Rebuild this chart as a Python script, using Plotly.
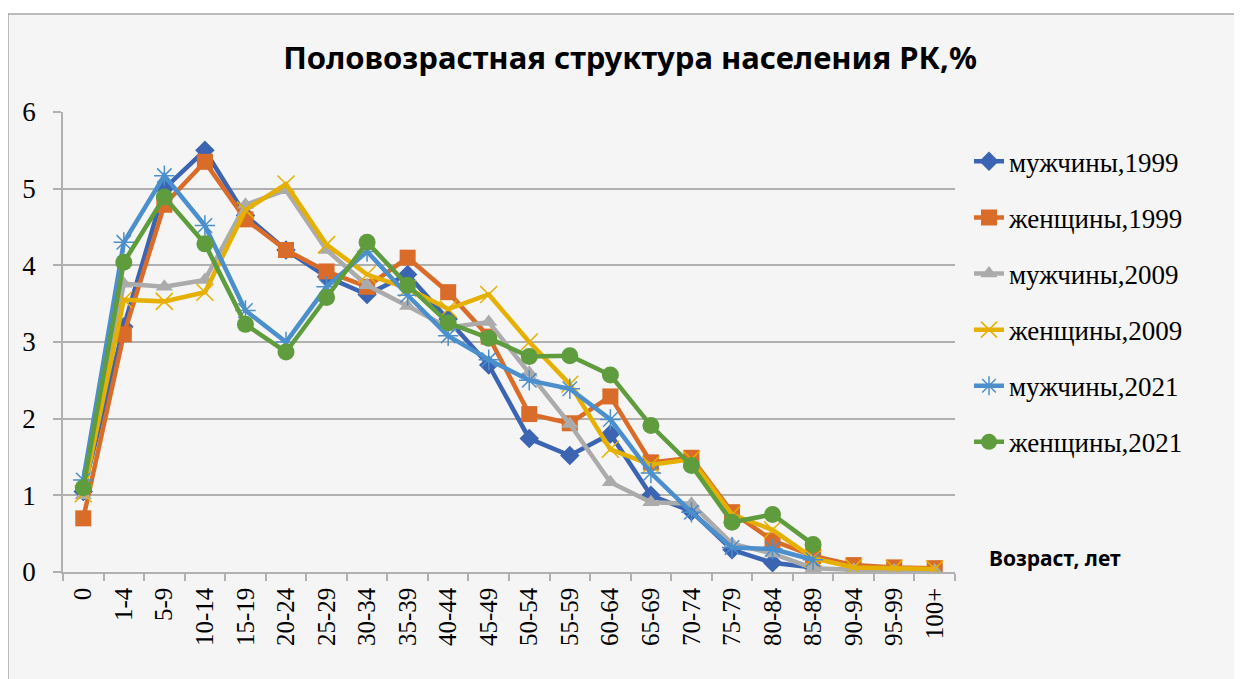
import plotly.graph_objects as go

ages = ["0", "1-4", "5-9", "10-14", "15-19", "20-24", "25-29", "30-34", "35-39", "40-44",
        "45-49", "50-54", "55-59", "60-64", "65-69", "70-74", "75-79", "80-84", "85-89",
        "90-94", "95-99", "100+"]

men_1999 = [1.05, 3.2, 5.0, 5.5, 4.65, 4.2, 3.85, 3.62, 3.88, 3.3, 2.7, 1.74, 1.52, 1.8,
            1.0, 0.79, 0.29, 0.12, 0.06, None, None, None]
women_1999 = [0.7, 3.1, 4.79, 5.35, 4.6, 4.2, 3.92, 3.72, 4.1, 3.65, 3.07, 2.06, 1.94, 2.29,
              1.43, 1.49, 0.78, 0.41, 0.21, 0.09, 0.06, 0.05]
men_2009 = [1.0, 3.76, 3.72, 3.81, 4.79, 4.98, 4.2, 3.74, 3.47, 3.19, 3.26, 2.6, 1.93, 1.17,
            0.91, 0.89, 0.37, 0.24, 0.05, 0.03, 0.02, 0.02]
women_2009 = [1.02, 3.55, 3.53, 3.65, 4.72, 5.06, 4.27, 3.88, 3.7, 3.43, 3.62, 3.0, 2.45, 1.6,
              1.4, 1.47, 0.75, 0.55, 0.18, 0.06, 0.05, 0.04]
men_2021 = [1.2, 4.3, 5.17, 4.52, 3.41, 3.0, 3.72, 4.18, 3.61, 3.08, 2.77, 2.5, 2.39, 1.99,
            1.29, 0.78, 0.32, 0.3, 0.16, None, None, None]
women_2021 = [1.1, 4.04, 4.89, 4.28, 3.23, 2.87, 3.58, 4.3, 3.74, 3.25, 3.05, 2.81, 2.82, 2.57,
              1.91, 1.39, 0.65, 0.75, 0.36, None, None, None]

names = ["мужчины,1999", "женщины,1999", "мужчины,2009", "женщины,2009",
         "мужчины,2021", "женщины,2021"]
series = [men_1999, women_1999, men_2009, women_2009, men_2021, women_2021]
colors = ["#3b64b3", "#d96c28", "#ababab", "#e6b000", "#4b8fcc", "#5f9c3d"]
symbols = ["diamond", "square", "triangle-up", "x-thin-open", "asterisk-open", "circle"]
sizes = [15, 16, 15, 17, 17, 17]

x_idx = list(range(len(ages)))

# plot-area geometry (figure pixels)
L, R, T, B = 55, 295, 104, 115
W, H = 1242, 679
PW, PH = W - L - R, H - T - B

fig = go.Figure()
for i, (nm, ys) in enumerate(zip(names, series)):
    fig.add_trace(go.Scatter(
        x=x_idx, y=ys, name=nm, mode="lines+markers",
        legendgroup=str(i),
        line=dict(color=colors[i], width=4.5),
        marker=dict(symbol=symbols[i], size=sizes[i], color=colors[i],
                    line=dict(color=colors[i], width=1.5 if "open" in symbols[i] else 0)),
        connectgaps=False,
    ))

fig.update_layout(
    width=W, height=H,
    margin=dict(l=L, r=R, t=T, b=B),
    paper_bgcolor="white",
    plot_bgcolor="rgba(0,0,0,0)",
    title=dict(text="<b>Половозрастная структура населения РК,%</b>",
               x=(630 - 8) / W, xanchor="center", y=1 - 50 / H, yanchor="middle",
               font=dict(family="Noto Sans", size=31, color="black")),
    legend=dict(x=1 + 14 / PW, xanchor="left", y=0.945, yanchor="top",
                font=dict(family="Liberation Serif", size=27, color="black"),
                tracegroupgap=18, bgcolor="rgba(0,0,0,0)"),
    shapes=[dict(type="rect", xref="paper", yref="paper", layer="below",
                 x0=-L / PW, x1=(W + 20 - L) / PW,
                 y0=-(B + 20) / PH, y1=(PH + T - 6) / PH,
                 fillcolor="#f5f5f5", line=dict(color="#a6a6a6", width=1.5))],
    annotations=[dict(text="<b>Возраст, лет</b>", xref="paper", yref="paper",
                      x=(979 - L) / PW, y=(14) / PH, xanchor="left", yanchor="middle",
                      showarrow=False, font=dict(family="Noto Sans", size=21, color="black"))],
)
fig.update_xaxes(range=[-0.5, len(ages) - 0.5], showgrid=False, zeroline=False,
                 showline=True, linecolor="#b0b0b0", linewidth=1.5,
                 tickmode="array", tickvals=x_idx, ticktext=ages, ticks="",
                 tickangle=-90, automargin=False, ticklabelstandoff=4,
                 minor=dict(tickmode="linear", tick0=-0.5, dtick=1, ticks="outside",
                            ticklen=7, tickcolor="#b0b0b0", tickwidth=1.5, showgrid=False),
                 tickfont=dict(family="Liberation Serif", size=25, color="black"))
fig.update_yaxes(range=[0, 6], dtick=1, showgrid=True, gridcolor="#b0b0b0", gridwidth=1.5,
                 showline=True, linecolor="#b0b0b0", linewidth=1.5, zeroline=False,
                 ticks="outside", ticklen=8, tickcolor="#b0b0b0", tickwidth=1.5,
                 ticklabelstandoff=12, automargin=False,
                 tickfont=dict(family="Liberation Serif", size=27, color="black"))

fig.write_html("out.html")
